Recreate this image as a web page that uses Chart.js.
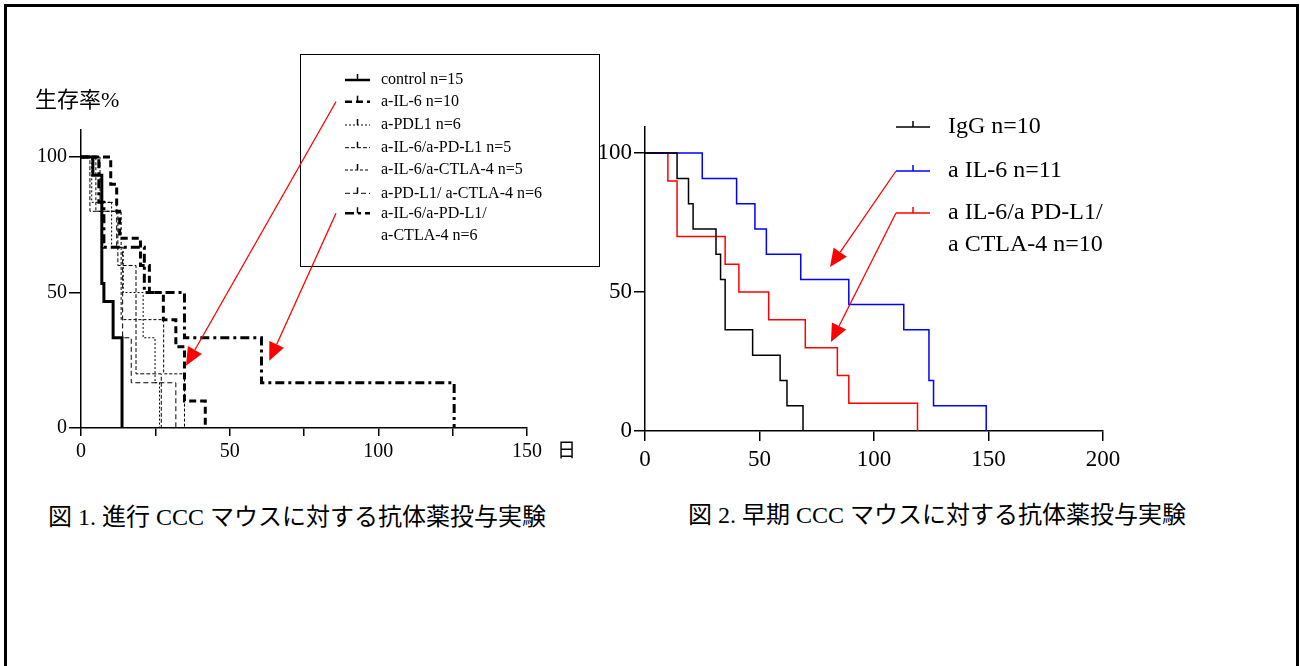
<!DOCTYPE html>
<html>
<head>
<meta charset="utf-8">
<script src="https://cdn.jsdelivr.net/npm/chart.js@4.4.1/dist/chart.umd.min.js"></script>
<style>
  body { margin: 0; background: #fff; width: 1300px; height: 666px; overflow: hidden; position: relative;
         font-family: 'Liberation Serif', 'Noto Sans CJK JP', serif; color: #000; }
  #frame { position: absolute; left: 4px; top: 4px; width: 1289px; height: 800px; border: 3px solid #000; }
  canvas { position: absolute; }
  #cL { left: 0; top: 40px; }
  #cR { left: 580px; top: 40px; }
  .txt { position: absolute; white-space: nowrap; line-height: 1; }
</style>
</head>
<body>
<div id="frame"></div>
<canvas id="cL" width="600" height="440"></canvas>
<canvas id="cR" width="620" height="440"></canvas>
<div class="txt" style="left:35px;top:89px;font-size:22px">生存率%</div>
<div class="txt" style="left:557px;top:441px;font-size:19px">日</div>
<div class="txt" style="left:48px;top:505px;font-size:24px">図 1. 進行 CCC マウスに対する抗体薬投与実験</div>
<div class="txt" style="left:688px;top:503px;font-size:24px">図 2. 早期 CCC マウスに対する抗体薬投与実験</div>

<script>
// Fig.1 advanced CCC: days / survival %
const ctrlDays   = [0, 4, 7, 7.7, 10.8, 13.8];
const ctrlSurv   = [100, 93.3, 53.3, 46.7, 33.3, 0];
const il6Days    = [0, 10, 12, 13, 20, 23, 27.7, 31.9, 34.8, 41.8];
const il6Surv    = [100, 90, 80, 70, 60, 50, 40, 30, 10, 0];
const pdl1Days   = [0, 3.6, 10.3, 14.2, 20.9, 24.9, 26.4];
const pdl1Surv   = [100, 83.3, 66.7, 50, 33.3, 16.7, 0];
const il6PdDays  = [0, 3, 12.4, 18.5, 27];
const il6PdSurv  = [100, 80, 60, 20, 0];
const il6CtDays  = [0, 5, 13.5, 27.8, 34.8];
const il6CtSurv  = [100, 80, 40, 20, 0];
const pdCtDays   = [0, 6.4, 12, 14, 16.9, 31.9];
const pdCtSurv   = [100, 83.3, 66.7, 33.3, 16.7, 0];
const tripleDays = [0, 6, 7.7, 21.3, 34.8, 60.7, 125.5];
const tripleSurv = [100, 83.3, 66.7, 50, 33.3, 16.7, 0];
const leftLabels = [['control n=15'], ['a-IL-6 n=10'], ['a-PDL1 n=6'], ['a-IL-6/a-PD-L1 n=5'],
                    ['a-IL-6/a-CTLA-4 n=5'], ['a-PD-L1/ a-CTLA-4 n=6'], ['a-IL-6/a-PD-L1/', 'a-CTLA-4 n=6']];
const leftXTicks = [0, 25, 50, 75, 100, 125, 150];
const leftYTicks = [0, 50, 100];

// Fig.2 early CCC
const igGDays  = [0, 14, 19, 21, 31, 33, 35, 47, 59, 62, 69];
const igGSurv  = [100, 90.9, 81.8, 72.7, 63.6, 54.5, 36.4, 27.3, 18.2, 9.1, 0];
const il6eDays = [0, 25, 40, 48, 53, 68, 89, 113, 124, 126, 149];
const il6eSurv = [100, 90.9, 81.8, 72.7, 63.6, 54.5, 45.5, 36.4, 18.2, 9.1, 0];
const trieDays = [0, 10, 14, 35, 41, 54, 70, 84, 89, 119];
const trieSurv = [100, 90, 70, 60, 50, 40, 30, 20, 10, 0];
const rightLabels = [['IgG n=10'], ['a IL-6 n=11'], ['a IL-6/a PD-L1/', 'a CTLA-4 n=10']];
const rightXTicks = [0, 50, 100, 150, 200];
const rightYTicks = [0, 50, 100];

// red arrows: legend row -> tip (days, %)
const leftArrowRows = [1, 6];
const leftArrowDays = [35.3, 63.3];
const leftArrowSurv = [23, 24.8];
const rightArrowRows = [1, 2];
const rightArrowDays = [80.8, 81.2];
const rightArrowSurv = [59, 32];

Chart.defaults.font.family = "'Liberation Serif', 'Noto Sans CJK JP', serif";
Chart.defaults.color = '#000';

const pts = (d, s) => d.map((x, i) => ({ x: x, y: s[i] }));

function km(label, d, s, color, width, dash) {
  return { label, data: pts(d, s), stepped: 'before', borderColor: color, borderWidth: width,
           borderDash: dash, pointRadius: 0, fill: false, clip: false };
}

function drawArrow(ctx, x0, y0, x1, y1) {
  const a = Math.atan2(y1 - y0, x1 - x0);
  const hl = 18, hw = 8;
  const bx = x1 - hl * Math.cos(a), by = y1 - hl * Math.sin(a);
  ctx.save();
  ctx.setLineDash([]);
  ctx.strokeStyle = '#ff0000';
  ctx.fillStyle = '#ff0000';
  ctx.lineWidth = 1.3;
  ctx.beginPath(); ctx.moveTo(x0, y0); ctx.lineTo(bx, by); ctx.stroke();
  ctx.beginPath();
  ctx.moveTo(x1, y1);
  ctx.lineTo(bx + hw * Math.sin(a), by - hw * Math.cos(a));
  ctx.lineTo(bx - hw * Math.sin(a), by + hw * Math.cos(a));
  ctx.closePath(); ctx.fill();
  ctx.restore();
}

const kmLegend = {
  id: 'kmLegend',
  afterDraw(chart, args, o) {
    const ctx = chart.ctx;
    ctx.save();
    if (o.box) {
      ctx.strokeStyle = '#000'; ctx.lineWidth = 1;
      ctx.strokeRect(o.box[0] + 0.5, o.box[1] + 0.5, o.box[2], o.box[3]);
    }
    ctx.font = o.size + "px 'Liberation Serif', 'Noto Sans CJK JP', serif";
    ctx.textBaseline = 'middle';
    ctx.fillStyle = '#000';
    const mid = (o.x0 + o.x1) / 2;
    chart.data.datasets.forEach((ds, i) => {
      const y = o.rows[i];
      ctx.strokeStyle = ds.borderColor;
      ctx.lineWidth = Math.min(ds.borderWidth, 2.5);
      ctx.setLineDash(ds.borderDash || []);
      ctx.beginPath(); ctx.moveTo(o.x0, y); ctx.lineTo(o.x1, y); ctx.stroke();
      ctx.setLineDash([]);
      ctx.lineWidth = 1.5;
      ctx.beginPath(); ctx.moveTo(mid, y); ctx.lineTo(mid, y - 6); ctx.stroke();
      o.labels[i].forEach((t, k) => ctx.fillText(t, o.textX, y + k * o.gap));
    });
    const xs = chart.scales.x, ys = chart.scales.y;
    o.arrowRows.forEach((r, i) => {
      drawArrow(ctx, o.x0 - o.tailGap, o.rows[r],
                xs.getPixelForValue(o.arrowDays[i]), ys.getPixelForValue(o.arrowSurv[i]));
    });
    ctx.restore();
  }
};

function scales(cfg) {
  return {
    x: {
      type: 'linear', min: 0, max: cfg.xMax,
      afterBuildTicks: s => { s.ticks = cfg.xTicks.map(v => ({ value: v })); },
      afterFit: s => { s.height = cfg.xH; },
      ticks: { callback: v => (v % 50 === 0 ? String(v) : ''), font: { size: cfg.font }, color: '#000',
               padding: cfg.xPad, maxRotation: 0, autoSkip: false },
      grid: { drawOnChartArea: false, drawTicks: true, tickLength: cfg.xTick, color: '#000', lineWidth: 1.5 },
      border: { display: true, color: '#000', width: 1.5 }
    },
    y: {
      type: 'linear', min: 0, max: cfg.yMax,
      afterBuildTicks: s => { s.ticks = cfg.yTicks.map(v => ({ value: v })); },
      afterFit: s => { s.width = cfg.yW; },
      ticks: { font: { size: cfg.font }, color: '#000', padding: 2 },
      grid: { drawOnChartArea: false, drawTicks: true, tickLength: cfg.yTick, color: '#000', lineWidth: 1.5 },
      border: { display: true, color: '#000', width: 1.5 }
    }
  };
}

new Chart(document.getElementById('cL'), {
  type: 'line',
  data: {
    datasets: [
      km('control n=15', ctrlDays, ctrlSurv, '#000', 3, []),
      km('a-IL-6 n=10', il6Days, il6Surv, '#000', 3, [7, 4]),
      km('a-PDL1 n=6', pdl1Days, pdl1Surv, '#000', 1, [2, 2]),
      km('a-IL-6/a-PD-L1 n=5', il6PdDays, il6PdSurv, '#000', 1, [4, 2]),
      km('a-IL-6/a-CTLA-4 n=5', il6CtDays, il6CtSurv, '#000', 1, [3, 2]),
      km('a-PD-L1/ a-CTLA-4 n=6', pdCtDays, pdCtSurv, '#000', 1, [5, 3]),
      km('a-IL-6/a-PD-L1/a-CTLA-4 n=6', tripleDays, tripleSurv, '#000', 3, [9, 4, 3, 4])
    ]
  },
  options: {
    responsive: false, animation: false, devicePixelRatio: 1,
    layout: { padding: { top: 90, right: 73, left: 0, bottom: 0 } },
    scales: scales({ xMax: 150, xTicks: leftXTicks, xH: 52, xPad: 4, xTick: 8,
                     yMax: 110, yTicks: leftYTicks, yW: 81, yTick: 12, font: 20 }),
    plugins: {
      legend: { display: false }, tooltip: { enabled: false },
      kmLegend: { box: [300, 14, 299, 212], x0: 345, x1: 370, textX: 381, size: 16, gap: 22,
                  rows: [40, 61.7, 85, 107.7, 130, 153.3, 173.3], labels: leftLabels, tailGap: 9,
                  arrowRows: leftArrowRows, arrowDays: leftArrowDays, arrowSurv: leftArrowSurv }
    }
  },
  plugins: [kmLegend]
});

new Chart(document.getElementById('cR'), {
  type: 'line',
  data: {
    datasets: [
      km('IgG n=10', igGDays, igGSurv, '#000', 1.5, []),
      km('a IL-6 n=11', il6eDays, il6eSurv, '#0000ff', 1.5, []),
      km('a IL-6/a PD-L1/a CTLA-4 n=10', trieDays, trieSurv, '#ff0000', 1.5, [])
    ]
  },
  options: {
    responsive: false, animation: false, devicePixelRatio: 1,
    layout: { padding: { top: 87, right: 97, left: 0, bottom: 0 } },
    scales: scales({ xMax: 200, xTicks: rightXTicks, xH: 49, xPad: 5, xTick: 10,
                     yMax: 109.4, yTicks: rightYTicks, yW: 65, yTick: 11, font: 23 }),
    plugins: {
      legend: { display: false }, tooltip: { enabled: false },
      kmLegend: { box: null, x0: 316, x1: 350, textX: 368, size: 24, gap: 32,
                  rows: [87, 131, 173], labels: rightLabels, tailGap: 0,
                  arrowRows: rightArrowRows, arrowDays: rightArrowDays, arrowSurv: rightArrowSurv }
    }
  },
  plugins: [kmLegend]
});
</script>
</body>
</html>
